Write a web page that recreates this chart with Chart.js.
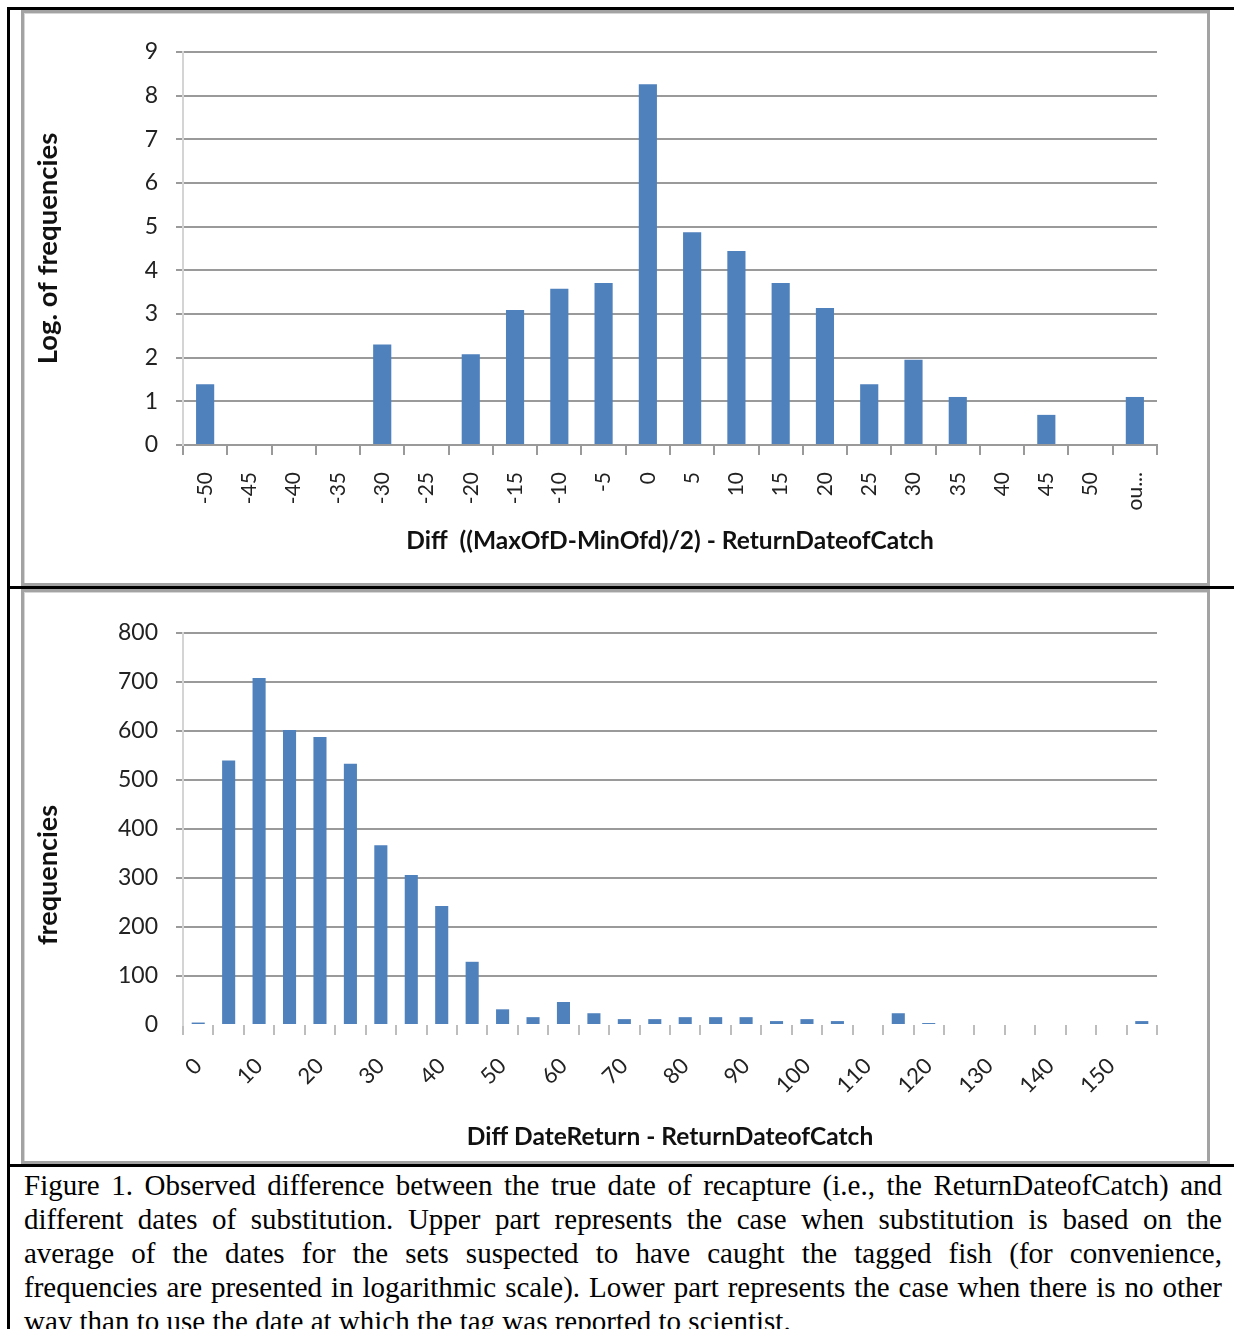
<!DOCTYPE html>
<html>
<head>
<meta charset="utf-8">
<script src="https://cdn.jsdelivr.net/npm/chart.js@4.4.0/dist/chart.umd.min.js"></script>
<style>
  html, body { margin: 0; padding: 0; background: #fff; overflow: hidden; }
  body { width: 1234px; height: 1329px; position: relative; }
  .rule { position: absolute; background: #000; }
  .box { position: absolute; border: 3px solid #a3a3a3; box-shadow: inset 1px 1px 0 #d6d6d6; box-sizing: border-box; background: #fff; }
  canvas { position: absolute; }
  #caption { position: absolute; left: 24px; top: 1168px; width: 1198px;
    font-family: "Liberation Serif", "Times New Roman", serif; font-size: 29px; line-height: 34px; color: #000; }
  #caption div { text-align: justify; text-align-last: justify; white-space: nowrap; }
  #caption div.last { text-align-last: left; }
</style>
</head>
<body>
<div class="rule" style="left:7px;top:7px;width:1227px;height:3px"></div>
<div class="rule" style="left:7px;top:7px;width:3px;height:1322px"></div>
<div class="rule" style="left:7px;top:586px;width:1227px;height:3px"></div>
<div class="rule" style="left:7px;top:1164px;width:1227px;height:3px"></div>

<div class="box" style="left:21px;top:10px;width:1189px;height:576px"></div>
<div class="box" style="left:21px;top:589px;width:1189px;height:575px"></div>

<canvas id="topChart" width="1183" height="570" style="left:24px;top:13px"></canvas>
<canvas id="bottomChart" width="1183" height="568" style="left:24px;top:593px"></canvas>

<div id="caption">
  <div>Figure 1. Observed difference between the true date of recapture (i.e., the ReturnDateofCatch) and</div>
  <div>different dates of substitution. Upper part represents the case when substitution is based on the</div>
  <div>average of the dates for the sets suspected to have caught the tagged fish (for convenience,</div>
  <div>frequencies are presented in logarithmic scale). Lower part represents the case when there is no other</div>
  <div class="last">way than to use the date at which the tag was reported to scientist.</div>
</div>

<script>
// upper panel: log of frequencies
const topLabels = ["-50", "-45", "-40", "-35", "-30", "-25", "-20", "-15", "-10", "-5", "0",
  "5", "10", "15", "20", "25", "30", "35", "40", "45", "50", "ou..."];
const topValues = [1.39, 0, 0, 0, 2.3, 0, 2.08, 3.09, 3.58, 3.71, 8.26,
  4.87, 4.44, 3.71, 3.14, 1.39, 1.95, 1.1, 0, 0.69, 0, 1.1];
const topMax = 9;
const topStep = 1;

// lower panel: frequencies
const bottomLabels = ["0", "5", "10", "15", "20", "25", "30", "35", "40", "45", "50", "55",
  "60", "65", "70", "75", "80", "85", "90", "95", "100", "105", "110", "115",
  "120", "125", "130", "135", "140", "145", "150", "155"];
const bottomValues = [5, 540, 708, 602, 588, 533, 367, 306, 243, 129, 32, 16,
  47, 24, 12, 12, 16, 16, 16, 8, 12, 8, 0, 24,
  4, 0, 0, 0, 0, 0, 0, 8];
const bottomMax = 800;
const bottomStep = 100;

const barColor = "#4F81BD";
const gridColor = "#9a9a9a";
const tickFont = "Lato";

// rotated y title drawn by hand so it can sit off-centre like the original
const sideTitle = {
  id: "sideTitle",
  afterDraw(chart, args, opts) {
    const { ctx, chartArea } = chart;
    ctx.save();
    ctx.font = opts.font;
    ctx.fillStyle = "#111";
    ctx.textAlign = "center";
    ctx.textBaseline = "middle";
    ctx.translate(opts.x, (chartArea.top + chartArea.bottom) / 2 + opts.shift);
    ctx.rotate(-Math.PI / 2);
    ctx.fillText(opts.text, 0, 0);
    ctx.restore();
  },
};

function makeChart(id, labels, values, cfg) {
  return new Chart(document.getElementById(id), {
    type: "bar",
    data: {
      labels: labels,
      datasets: [{
        data: values,
        backgroundColor: barColor,
        borderWidth: 0,
        categoryPercentage: 1,
        barPercentage: cfg.barPct,
      }],
    },
    options: {
      responsive: false,
      animation: false,
      layout: { padding: { left: 0, top: cfg.top, right: 50, bottom: 0 } },
      plugins: {
        legend: { display: false },
        tooltip: { enabled: false },
        sideTitle: { text: cfg.yTitle, font: cfg.yTitleFont, x: 24, shift: cfg.yShift },
      },
      scales: {
        x: {
          afterFit: (scale) => { scale.height = cfg.xHeight; },
          grid: {
            offset: true,
            drawOnChartArea: false,
            drawTicks: true,
            tickLength: 10,
            color: cfg.xTickColor,
            lineWidth: 2,
          },
          border: { display: cfg.xBorder, color: gridColor, width: 2 },
          ticks: {
            autoSkip: false,
            minRotation: cfg.rot,
            maxRotation: cfg.rot,
            padding: cfg.xPad,
            color: "#222",
            font: { family: tickFont, size: cfg.xFont },
            callback: function (value, index) {
              return index % cfg.every === 0 ? this.getLabelForValue(value) : "";
            },
          },
          title: {
            display: true,
            text: cfg.xTitle,
            color: "#111",
            font: { family: tickFont, size: 24.5, weight: "bold" },
            padding: { top: 0, bottom: cfg.xTitlePad },
          },
        },
        y: {
          min: 0,
          max: cfg.max,
          afterFit: (scale) => { scale.width = 159; },
          grid: {
            color: (c) => (cfg.hideZero && c.tick && c.tick.value === 0 ? "rgba(0,0,0,0)" : gridColor),
            lineWidth: 2,
            drawTicks: true,
            tickLength: 7,
          },
          border: { display: true, color: "#d4d4d4", width: 2 },
          ticks: {
            stepSize: cfg.step,
            padding: 18,
            color: "#222",
            font: { family: tickFont, size: 23 },
          },
        },
      },
    },
    plugins: [sideTitle],
  });
}

makeChart("topChart", topLabels, topValues, {
  barPct: 0.41, top: 39, xHeight: 138, rot: 90, xPad: 17, xFont: 21, every: 1,
  xTickColor: gridColor, xBorder: true, xTitlePad: 27,
  xTitle: "Diff  ((MaxOfD-MinOfd)/2) - ReturnDateofCatch",
  yTitle: "Log. of frequencies", yTitleFont: "bold 27.5px Lato", yShift: 0,
  max: topMax, step: topStep, hideZero: false,
});

makeChart("bottomChart", bottomLabels, bottomValues, {
  barPct: 0.43, top: 40, xHeight: 136, rot: 45, xPad: 18, xFont: 22, every: 2,
  xTickColor: "#bdbdbd", xBorder: false, xTitlePad: 9,
  xTitle: "Diff DateReturn - ReturnDateofCatch",
  yTitle: "frequencies", yTitleFont: "bold 27px Lato", yShift: 46,
  max: bottomMax, step: bottomStep, hideZero: true,
});
</script>
</body>
</html>
